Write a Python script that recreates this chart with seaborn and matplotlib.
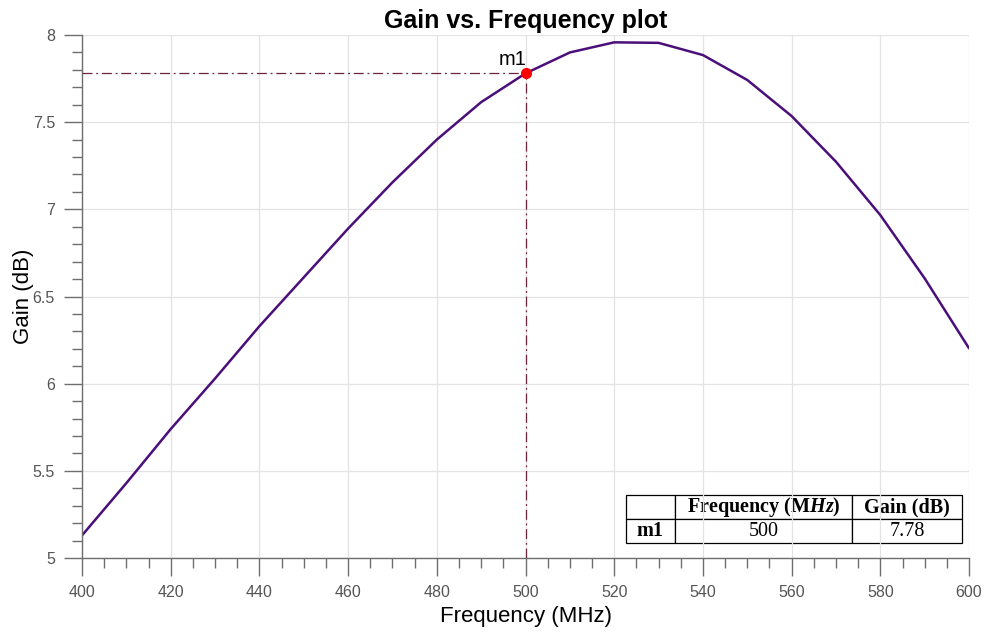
import numpy as np
import pandas as pd
import matplotlib
matplotlib.use('Agg')
import matplotlib.pyplot as plt
from matplotlib.ticker import MultipleLocator
import seaborn as sns

# values
freq = [400, 410, 420, 430, 440, 450, 460, 470, 480, 490, 500,
        510, 520, 530, 540, 550, 560, 570, 580, 590, 600]
gain = [5.13, 5.43, 5.74, 6.03, 6.33, 6.61, 6.89, 7.155, 7.40, 7.615, 7.78,
        7.90, 7.958, 7.955, 7.885, 7.742, 7.535, 7.273, 6.967, 6.604, 6.203]

marker_name = 'm1'
marker_freq = 500
marker_gain = 7.78

table_cols = ['', 'Frequency (M$Hz$)', 'Gain (dB)']
table_rows = [['m1', '500', '7.78']]

sns.set_style('white')
plt.rcParams['font.family'] = ['Liberation Sans', 'DejaVu Sans']
plt.rcParams['text.color'] = 'black'
plt.rcParams['axes.labelcolor'] = 'black'
plt.rcParams['mathtext.fontset'] = 'custom'
plt.rcParams['mathtext.it'] = 'Liberation Serif:italic:bold'
plt.rcParams['mathtext.rm'] = 'Liberation Serif:bold'

data = pd.DataFrame({'Frequency': freq, 'Gain': gain})

fig = plt.figure(figsize=(9.86, 6.32), dpi=100)
ax = fig.add_axes([0.0832, 0.117, 0.8996, 0.8276])

sns.lineplot(data=data, x='Frequency', y='Gain', ax=ax, color='#4b0f7a', lw=1.8)

# marker guide lines
guide_col = '#6e2440'
ax.plot([400, marker_freq], [marker_gain, marker_gain], color=guide_col,
        ls=(0, (8, 3, 1.5, 3)), lw=0.9, zorder=3)
ax.plot([marker_freq, marker_freq], [5, marker_gain], color=guide_col,
        ls=(0, (8, 3, 1.5, 3)), lw=0.9, zorder=3)
ax.plot([marker_freq], [marker_gain], 'o', color='red', ms=7, zorder=5)
ax.annotate(marker_name, (marker_freq, marker_gain), xytext=(1, 3),
            textcoords='offset points', ha='right', va='bottom', fontsize=14.5)

ax.set_xlim(400, 600)
ax.set_ylim(5, 8)
ax.xaxis.set_major_locator(MultipleLocator(20))
ax.xaxis.set_minor_locator(MultipleLocator(5))
ax.yaxis.set_major_locator(MultipleLocator(0.5))
ax.yaxis.set_minor_locator(MultipleLocator(0.1))
ax.set_yticks(np.arange(5, 8.01, 0.5))
ax.set_yticklabels(['5', '5.5', '6', '6.5', '7', '7.5', '8'])

ax.grid(True, which='major', color='#e3e3e3', lw=0.9)
ax.tick_params(which='major', direction='out', length=13, width=1,
               color='#6e6e6e', labelsize=11.5, labelcolor='#555555', pad=6.5)
ax.tick_params(which='minor', direction='out', length=7, width=1, color='#6e6e6e')
ax.tick_params(axis='both', which='both', bottom=True, left=True)

for s in ['top', 'right']:
    ax.spines[s].set_visible(False)
for s in ['left', 'bottom']:
    ax.spines[s].set_color('#6e6e6e')
    ax.spines[s].set_linewidth(1)

ax.set_xlabel('Frequency (MHz)', fontsize=16, color='black', labelpad=4)
ax.set_ylabel('Gain (dB)', fontsize=16, color='black', labelpad=-1)
ax.set_title('Gain vs. Frequency plot', fontsize=18, fontweight='bold',
             color='black', pad=5)

tbl = ax.table(cellText=table_rows, colLabels=table_cols, cellLoc='center',
               bbox=[0.613, 0.0287, 0.379, 0.0918],
               colWidths=[49, 177, 110])
tbl.auto_set_font_size(False)
for (r, c), cell in tbl.get_celld().items():
    cell.set_linewidth(0.9)
    cell.set_edgecolor('black')
    cell.set_facecolor('white')
    t = cell.get_text()
    t.set_family('Liberation Serif')
    t.set_fontsize(14.5)
    t.set_color('black')
    if r == 0 or c == 0:
        t.set_fontweight('bold')

fig.savefig('out.png', dpi=100)
